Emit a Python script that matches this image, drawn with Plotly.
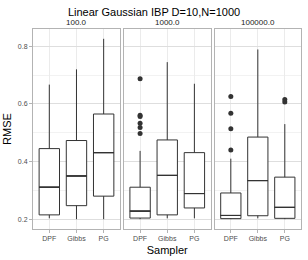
import plotly.graph_objects as go

samplers = ["DPF", "Gibbs", "PG"]
panels = ["100.0", "1000.0", "100000.0"]

# per panel: values for DPF, Gibbs, PG
lower = [[0.203, 0.200, 0.200], [0.200, 0.203, 0.203], [0.200, 0.203, 0.200]]
q1 = [[0.215, 0.247, 0.280], [0.204, 0.215, 0.239], [0.202, 0.212, 0.203]]
median = [[0.311, 0.350, 0.431], [0.228, 0.352, 0.289], [0.213, 0.334, 0.241]]
q3 = [[0.445, 0.473, 0.565], [0.311, 0.475, 0.431], [0.291, 0.485, 0.346]]
upper = [[0.667, 0.720, 0.826], [0.437, 0.745, 0.670], [0.410, 0.789, 0.530]]

outlier_sampler = [[], ["DPF", "DPF", "DPF", "DPF", "DPF", "DPF"], ["DPF", "DPF", "DPF", "DPF", "PG", "PG"]]
outlier_values = [[], [0.687, 0.561, 0.556, 0.533, 0.518, 0.497], [0.626, 0.568, 0.514, 0.440, 0.615, 0.607]]

title = "Linear Gaussian IBP D=10,N=1000"
x_title = "Sampler"
y_title = "RMSE"
y_ticks = [0.2, 0.4, 0.6, 0.8]

FONT = "Liberation Sans, Arial, sans-serif"
domains = [[0.0, 0.3245], [0.3388, 0.6630], [0.6777, 1.0]]

fig = go.Figure()
for i in range(3):
    xa = "x" if i == 0 else f"x{i+1}"
    ya = "y" if i == 0 else f"y{i+1}"
    fig.add_trace(go.Box(
        x=samplers, q1=q1[i], median=median[i], q3=q3[i],
        lowerfence=lower[i], upperfence=upper[i],
        xaxis=xa, yaxis=ya, width=0.75, whiskerwidth=0,
        fillcolor="white", line=dict(color="#333333", width=1),
        boxpoints=False, showlegend=False, hoverinfo="skip",
    ))
    # thicker median bar (ggplot fatten)
    fig.add_trace(go.Box(
        x=samplers, q1=median[i], median=median[i], q3=median[i],
        lowerfence=median[i], upperfence=median[i],
        xaxis=xa, yaxis=ya, width=0.75, whiskerwidth=0,
        fillcolor="rgba(0,0,0,0)", line=dict(color="#333333", width=1),
        boxpoints=False, showlegend=False, hoverinfo="skip",
    ))
    if outlier_values[i]:
        fig.add_trace(go.Scatter(
            x=outlier_sampler[i], y=outlier_values[i], mode="markers",
            xaxis=xa, yaxis=ya, showlegend=False,
            marker=dict(color="#333333", size=5),
        ))

layout = dict(
    width=308, height=260,
    margin=dict(l=29, r=6, t=29, b=27),
    paper_bgcolor="white", plot_bgcolor="white",
    boxmode="overlay",
    font=dict(family=FONT, color="#222222"),
    title=dict(text=title, x=0.5, xanchor="center", y=1 - 12 / 260, yanchor="middle",
               font=dict(size=11, color="black")),
)
for i in range(3):
    xk = "xaxis" if i == 0 else f"xaxis{i+1}"
    yk = "yaxis" if i == 0 else f"yaxis{i+1}"
    layout[xk] = dict(
        domain=domains[i], anchor="y" if i == 0 else f"y{i+1}",
        type="category", categoryorder="array", categoryarray=samplers,
        range=[-0.6, 2.6], showline=True, mirror=True, linecolor="#B3B3B3", linewidth=1,
        showgrid=True, gridcolor="#EBEBEB", gridwidth=1,
        ticks="outside", ticklen=3, tickcolor="#B3B3B3",
        tickfont=dict(size=7, color="#4D4D4D"), zeroline=False,
    )
    layout[yk] = dict(
        domain=[0, 1], anchor="x" if i == 0 else f"x{i+1}",
        range=[0.166, 0.86], tickvals=y_ticks,
        ticktext=[f"{v:.1f}" for v in y_ticks],
        showticklabels=(i == 0), ticks="outside" if i == 0 else "",
        ticklen=3, tickcolor="#B3B3B3",
        showline=True, mirror=True, linecolor="#B3B3B3", linewidth=1,
        showgrid=True, gridcolor="#DEDEDE", gridwidth=1,
        minor=dict(tickvals=[0.3, 0.5, 0.7], showgrid=True, gridcolor="#F2F2F2", gridwidth=0.5),
        tickfont=dict(size=7, color="#4D4D4D"), zeroline=False,
    )
    if i > 0:
        layout[yk]["matches"] = "y"
fig.update_layout(**layout)
fig.update_layout(
    xaxis2_title=dict(text=x_title, font=dict(size=11, color="black"), standoff=4),
    yaxis_title=dict(text=y_title, font=dict(size=11, color="black"), standoff=4),
)
for i in range(3):
    fig.add_annotation(
        text=panels[i], x=(domains[i][0] + domains[i][1]) / 2, y=1, xref="paper", yref="paper",
        xanchor="center", yanchor="bottom", yshift=0, showarrow=False,
        font=dict(size=8, color="#1A1A1A"),
    )
fig.write_html("out.html", config={"displayModeBar": False},
               post_script="document.body.style.margin='0';document.body.style.overflow='hidden';")
